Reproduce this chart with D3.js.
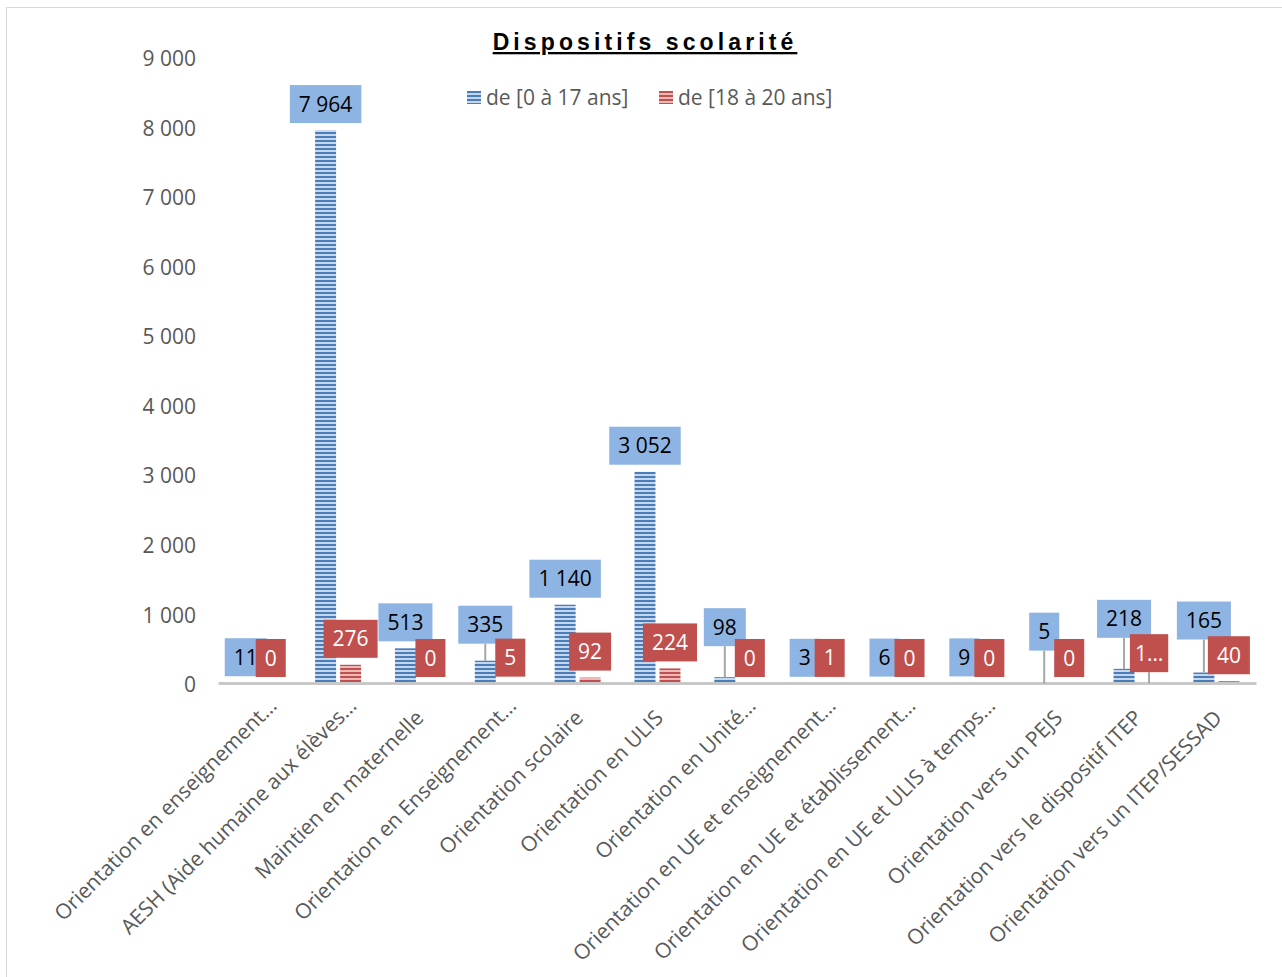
<!DOCTYPE html>
<html>
<head>
<meta charset="utf-8">
<script src="https://cdn.jsdelivr.net/npm/d3@7"></script>
<style>
  body { margin: 0; background: #fff; }
  svg { display: block; font-family: "Open Sans", sans-serif; }
</style>
</head>
<body>
<svg id="chart" width="1282" height="977"></svg>
<script>
// chart data
const categories = [
  "Orientation en enseignement…",
  "AESH (Aide humaine aux élèves…",
  "Maintien en maternelle",
  "Orientation en Enseignement…",
  "Orientation scolaire",
  "Orientation en ULIS",
  "Orientation en Unité…",
  "Orientation en UE et enseignement…",
  "Orientation en UE et établissement…",
  "Orientation en UE et ULIS à temps…",
  "Orientation vers un PEJS",
  "Orientation vers le dispositif ITEP",
  "Orientation vers un ITEP/SESSAD"
];
const seriesNames = ["de [0 à 17 ans]", "de [18 à 20 ans]"];
const young = [11, 7964, 513, 335, 1140, 3052, 98, 3, 6, 9, 5, 218, 165];
const older = [0, 276, 0, 5, 92, 224, 0, 1, 0, 0, 0, 12, 40];
const yTicks = [0, 1000, 2000, 3000, 4000, 5000, 6000, 7000, 8000, 9000];

// manual label nudges (px, like the moved callouts in the workbook)
const youngLabelLift = [0, 0, 0, 10, 0, 0, 24, 0, 0, 0, 26, 24, 26];
const olderLabelLift = [0, 0, 0, 0, 0, 0, 0, 0, 0, 0, 0, 4, 0];
const truncatedOlder = { 11: "1…" };

const svg = d3.select("#chart");
const fr = d3.formatLocale({ decimal: ",", thousands: " ", grouping: [3], currency: ["", " €"] });
const fmt = fr.format(",d");

const colors = {
  young: { dark: "#4a7ebb", light: "#c6d6ec", label: "#8db4e2", text: "#000" },
  older: { dark: "#c0504d", light: "#eab9b8", label: "#c0504d", text: "#fff" }
};

// striped fills
const defs = svg.append("defs");
Object.entries(colors).forEach(([k, c]) => {
  const p = defs.append("pattern")
    .attr("id", "hatch-" + k)
    .attr("patternUnits", "userSpaceOnUse")
    .attr("width", 8).attr("height", 4);
  p.append("rect").attr("width", 8).attr("height", 4).attr("fill", c.light);
  p.append("rect").attr("y", 0).attr("width", 8).attr("height", 2).attr("fill", c.dark);
});

// outer frame
svg.append("rect")
  .attr("x", 6.5).attr("y", 7.5)
  .attr("width", 1400).attr("height", 1100)
  .attr("fill", "none").attr("stroke", "#d9d9d9");

const x0 = d3.scaleBand().domain(categories).range([218, 1256]);
const x1 = d3.scaleBand().domain([0, 1])
  .range([x0.bandwidth() * 0.216, x0.bandwidth() * 0.792])
  .paddingInner(0.16);
const y = d3.scaleLinear().domain([0, 9000]).range([684, 58]);

// y axis
const yAxis = svg.append("g")
  .attr("transform", "translate(198,0)")
  .call(d3.axisLeft(y).tickValues(yTicks).tickFormat(fmt).tickSize(0).tickPadding(2));
yAxis.select(".domain").remove();
yAxis.selectAll("text")
  .attr("fill", "#595959")
  .attr("dy", "0.36em")
  .style("font-size", "21px")
  .style("font-family", "'Open Sans', sans-serif");

// bars
const rows = categories.map((c, i) => ({ c, i, vals: [young[i], older[i]] }));
const groups = svg.append("g").selectAll("g")
  .data(rows)
  .join("g")
  .attr("transform", d => `translate(${x0(d.c)},0)`);

groups.selectAll("rect")
  .data(d => d.vals.map((v, s) => ({ v, s, i: d.i })))
  .join("rect")
  .attr("x", d => x1(d.s))
  .attr("width", x1.bandwidth())
  .attr("y", d => y(d.v))
  .attr("height", d => y(0) - y(d.v))
  .attr("fill", d => d.s === 0 ? "url(#hatch-young)" : "url(#hatch-older)");

// x axis
const xAxis = svg.append("g")
  .attr("transform", "translate(0,683)")
  .call(d3.axisBottom(x0).tickSize(0).tickSizeOuter(0).tickPadding(0));
xAxis.select(".domain").attr("stroke", "#c8c8c8").attr("stroke-width", 3);
xAxis.selectAll(".tick text")
  .attr("fill", "#595959")
  .style("font-size", "21px")
  .style("font-family", "'Open Sans', sans-serif")
  .attr("text-anchor", "end")
  .attr("x", 0).attr("y", 0).attr("dy", "0.75em")
  // clipped names sit a little further out, as Excel draws them
  .attr("transform", d => d.endsWith("…") ? "translate(9,13) rotate(-45)" : "translate(-4,25) rotate(-45)");

// data labels (callout boxes)
const labelLayer = svg.append("g");
const leaderLayer = labelLayer.append("g");
function callout(text, cx, barTop, lift, c) {
  const bottom = barTop - 7 - lift;
  const g = labelLayer.append("g");
  const box = g.append("rect").attr("fill", c.label);
  const t = g.append("text")
    .attr("x", cx).attr("y", bottom - 19).attr("dy", "0.36em")
    .attr("text-anchor", "middle")
    .attr("fill", c.text)
    .style("font-size", "21px")
    .text(text);
  const w = t.node().getComputedTextLength() + (text.endsWith("…") ? 10 : 18);
  box.attr("x", cx - w / 2).attr("y", bottom - 38).attr("width", w).attr("height", 38);
  if (lift > 0) {
    leaderLayer.append("line")
      .attr("x1", cx).attr("x2", cx)
      .attr("y1", bottom).attr("y2", barTop)
      .attr("stroke", "#a6a6a6").attr("stroke-width", 2);
  }
}
rows.forEach(d => {
  const base = x0(d.c);
  callout(fmt(young[d.i]), base + x1(0) + x1.bandwidth() / 2, y(young[d.i]), youngLabelLift[d.i], colors.young);
  callout(truncatedOlder[d.i] || fmt(older[d.i]), base + x1(1) + x1.bandwidth() / 2, y(older[d.i]), olderLabelLift[d.i], colors.older);
});

// title
svg.append("text")
  .attr("x", 645).attr("y", 50)
  .attr("text-anchor", "middle")
  .style("font-family", "'Liberation Sans', Arial, sans-serif")
  .style("font-weight", "bold")
  .style("font-size", "23px")
  .style("letter-spacing", "4.1px")
  .style("text-decoration", "underline")
  .attr("fill", "#000")
  .text("Dispositifs scolarité");

// legend
const legendX = [467, 659];
const legend = svg.append("g").selectAll("g")
  .data(seriesNames)
  .join("g")
  .attr("transform", (d, i) => `translate(${legendX[i]},91)`);
legend.append("rect")
  .attr("width", 14).attr("height", 13)
  .attr("fill", (d, i) => i === 0 ? "url(#hatch-young)" : "url(#hatch-older)");
legend.append("text")
  .attr("x", 19).attr("y", 6.5).attr("dy", "0.36em")
  .attr("fill", "#595959")
  .style("font-size", "21px")
  .text(d => d);
</script>
</body>
</html>
